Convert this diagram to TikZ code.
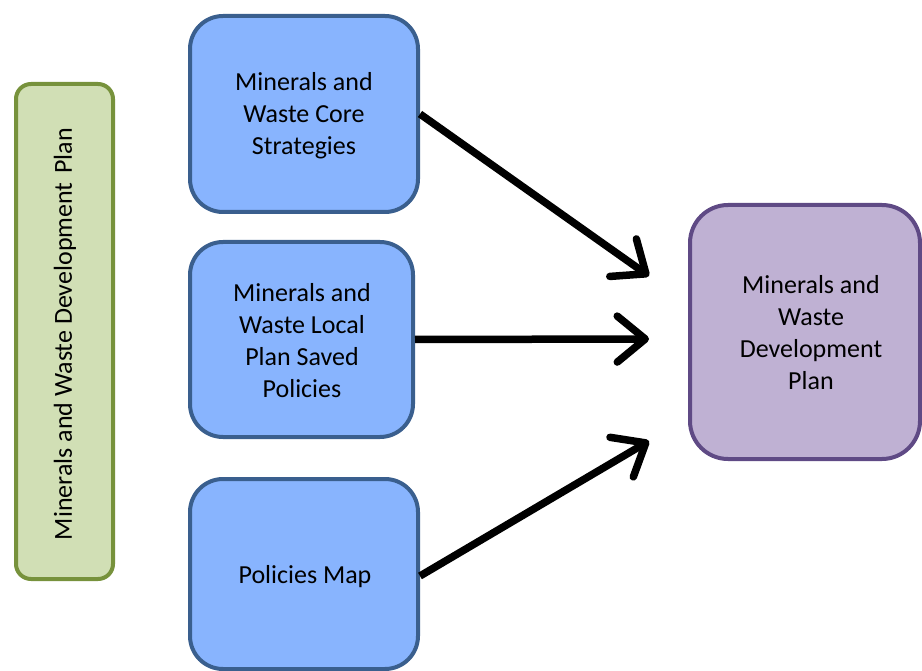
\documentclass[tikz,border=0pt]{standalone}
\usepackage{fontspec}
\setmainfont{Carlito}
\usetikzlibrary{arrows.meta}
\definecolor{bluefill}{RGB}{136,180,254}
\definecolor{blueline}{RGB}{58,95,142}
\definecolor{greenfill}{RGB}{209,223,181}
\definecolor{greenline}{RGB}{119,146,60}
\definecolor{purplefill}{RGB}{191,177,211}
\definecolor{purpleline}{RGB}{95,74,133}
\tikzset{
  bluebox/.style={draw=blueline, fill=bluefill, line width=4pt, rounded corners=33pt, inner sep=0pt},
  greenbox/.style={draw=greenline, fill=greenfill, line width=4pt, rounded corners=15pt, inner sep=0pt},
  purplebox/.style={draw=purpleline, fill=purplefill, line width=4pt, rounded corners=38pt, inner sep=0pt},
  label/.style={align=center, inner sep=0pt, font=\fontsize{26}{32}\selectfont},
  bigarrow/.style={line width=7.5pt, -{Straight Barb[length=28pt,width=46pt,round]}},
}
\begin{document}
\begin{tikzpicture}[x=1pt,y=-1pt]
\useasboundingbox (0,0) rectangle (922,671);
\node[greenbox, minimum width=97pt, minimum height=495pt] (g) at (64.5,331.5) {};
\node[label, rotate=90] (gt) at (65,334) {Minerals and Waste Development\hspace{9pt}Plan};
\node[bluebox, minimum width=228pt, minimum height=196pt] (b1) at (304,114) {};
\node[label] (b1t) at (304,115.5) {Minerals and\\Waste Core\\Strategies};
\node[bluebox, minimum width=223pt, minimum height=195pt] (b2) at (301.5,339.5) {};
\node[label] (b2t) at (302,340.5) {Minerals and\\Waste Local\\Plan Saved\\Policies};
\node[bluebox, minimum width=228pt, minimum height=190pt] (b3) at (304,574) {};
\node[label] (b3t) at (305,577) {Policies Map};
\node[purplebox, minimum width=230pt, minimum height=254pt] (d) at (805,332) {};
\node[label] (dt) at (811,332.5) {Minerals and\\Waste\\Development\\Plan};
\coordinate (t1) at (649,276);
\coordinate (t2) at (649,339);
\coordinate (t3) at (649,441);
\draw[bigarrow] (b1.east |- 0,114) -- (t1);
\draw[bigarrow] (b2.east) -- (t2);
\draw[bigarrow] (b3.east |- 0,576) -- (t3);
\end{tikzpicture}
\end{document}
